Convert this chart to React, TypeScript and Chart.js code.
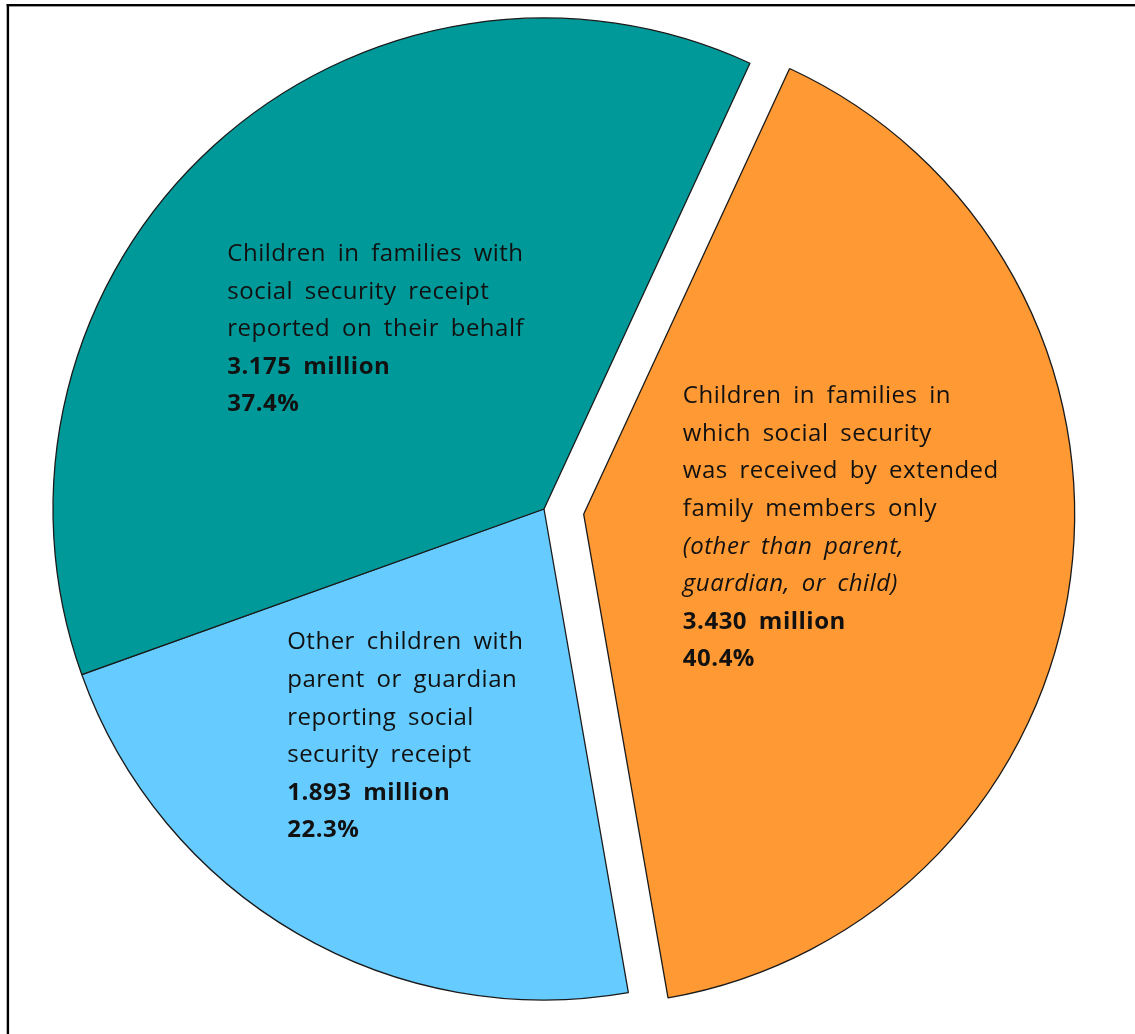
import React, { useEffect, useRef } from "react";
import { Chart, registerables, PieController } from "chart.js";

// ---- data ----
const categories = [
  "Extended family members only",
  "Other children with parent or guardian",
  "On their behalf",
];
const descriptionLines = [
  ["Children in families in", "which social security", "was received by extended", "family members only"],
  ["Other children with", "parent or guardian", "reporting social", "security receipt"],
  ["Children in families with", "social security receipt", "reported on their behalf"],
];
const noteLines = [["(other than parent,", "guardian, or child)"], [], []];
const valuesMillions = [3.43, 1.893, 3.175];

// ---- styles / layout (kept apart from data) ----
const sliceColors = ["#FF9933", "#66CCFF", "#009999"];
const explodeOffsets = [40, 0, 0];
const labelAnchors = [
  { dx: 0.202, dy: -0.24 },
  { dx: -0.523, dy: 0.272 },
  { dx: -0.645, dy: -0.519 },
];
const FONT_FAMILY = "'Open Sans', Lato, sans-serif";
const FONT_SIZE = 24;
const LINE_HEIGHT = 37.6;
const WORD_SPACING = "5px";
const LETTER_SPACING = "0.5px";

const W = 1135;
const H = 1034;
const CX = 544;
const CY = 509;
const RADIUS = 491;

// Pie controller that translates each arc by its explode offset (pixels).
class ExplodedPieController extends (PieController as any) {
  draw() {
    const self: any = this;
    const ctx = self.chart.ctx;
    const meta = self._cachedMeta;
    const offs: number[] = self.getDataset().explode || [];
    meta.data.forEach((arc: any, i: number) => {
      const mid = (arc.startAngle + arc.endAngle) / 2;
      const o = offs[i] || 0;
      ctx.save();
      ctx.translate(Math.cos(mid) * o, Math.sin(mid) * o);
      arc.draw(ctx, self.chart.chartArea);
      ctx.restore();
    });
  }
}
(ExplodedPieController as any).id = "explodedPie";
(ExplodedPieController as any).defaults = (PieController as any).defaults;
(ExplodedPieController as any).overrides = (PieController as any).overrides;

Chart.register(...registerables, ExplodedPieController as any);

const framePlugin = {
  id: "frame",
  beforeDraw(chart: any) {
    const ctx = chart.ctx;
    ctx.save();
    ctx.fillStyle = "#ffffff";
    ctx.fillRect(0, 0, chart.width, chart.height);
    ctx.fillStyle = "#000000";
    ctx.fillRect(6.7, 4, 2.4, chart.height);
    ctx.fillRect(6.7, 4, chart.width, 2.4);
    ctx.restore();
  },
};

const labelPlugin = {
  id: "sliceLabels",
  afterDatasetsDraw(chart: any) {
    const ctx = chart.ctx;
    const meta = chart.getDatasetMeta(0);
    const total = valuesMillions.reduce((a, b) => a + b, 0);
    ctx.save();
    ctx.textAlign = "left";
    ctx.textBaseline = "middle";
    ctx.fillStyle = "#111111";
    try {
      (ctx as any).wordSpacing = WORD_SPACING;
      (ctx as any).letterSpacing = LETTER_SPACING;
    } catch (e) {}
    meta.data.forEach((arc: any, i: number) => {
      const p = arc.getProps(["x", "y", "startAngle", "endAngle", "outerRadius"], true);
      const mid = (p.startAngle + p.endAngle) / 2;
      const off = explodeOffsets[i];
      const cx = p.x + Math.cos(mid) * off;
      const cy = p.y + Math.sin(mid) * off;
      const lx = cx + labelAnchors[i].dx * p.outerRadius;
      let ly = cy + labelAnchors[i].dy * p.outerRadius;
      const lines: { t: string; style: string }[] = [];
      descriptionLines[i].forEach((t) => lines.push({ t, style: "normal" }));
      noteLines[i].forEach((t) => lines.push({ t, style: "italic" }));
      lines.push({ t: valuesMillions[i].toFixed(3) + " million", style: "bold" });
      lines.push({ t: ((valuesMillions[i] / total) * 100).toFixed(1) + "%", style: "bold" });
      lines.forEach((ln) => {
        if (ln.style === "bold") ctx.font = `bold ${FONT_SIZE}px ${FONT_FAMILY}`;
        else if (ln.style === "italic") ctx.font = `italic ${FONT_SIZE}px ${FONT_FAMILY}`;
        else ctx.font = `${FONT_SIZE}px ${FONT_FAMILY}`;
        ctx.fillText(ln.t, lx, ly);
        ly += LINE_HEIGHT;
      });
    });
    ctx.restore();
  },
};

export default function App() {
  const ref = useRef<HTMLCanvasElement | null>(null);
  useEffect(() => {
    if (!ref.current) return;
    const chart = new Chart(ref.current, {
      type: "explodedPie" as any,
      data: {
        labels: categories,
        datasets: [
          {
            data: valuesMillions,
            backgroundColor: sliceColors,
            borderColor: "#1a1a1a",
            borderWidth: 1.3,
            explode: explodeOffsets,
          } as any,
        ],
      },
      options: {
        animation: false,
        responsive: false,
        events: [],
        rotation: 24.8,
        radius: RADIUS,
        layout: { padding: { left: 0, top: 0, right: W - 2 * CX, bottom: H - 2 * CY } },
        plugins: { legend: { display: false }, tooltip: { enabled: false } },
      } as any,
      plugins: [framePlugin, labelPlugin],
    });
    return () => chart.destroy();
  }, []);
  return (
    <div style={{ position: "fixed", left: 0, top: 0, width: W, height: H, overflow: "hidden", background: "#fff" }}>
      <canvas ref={ref} width={W} height={H} style={{ display: "block", width: W, height: H }} />
    </div>
  );
}
